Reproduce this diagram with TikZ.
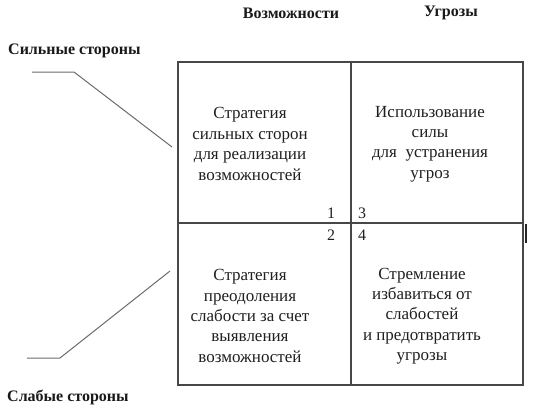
\documentclass[tikz,border=0pt]{standalone}
\usepackage{fontspec}
\setmainfont{Liberation Serif}
\begin{document}
\begin{tikzpicture}[x=1pt,y=-1pt,
  boxline/.style={draw=black!72,line width=1.2pt},
  leader/.style={draw=black!58,line width=1pt},
  head/.style={font=\fontsize{16}{19}\selectfont\bfseries,inner sep=0pt,text=black!90},
  body/.style={font=\fontsize{17}{20.4}\selectfont,align=center,inner sep=0pt,text=black!88},
  num/.style={font=\fontsize{16}{19}\selectfont,inner sep=0pt,text=black!88}]
\useasboundingbox (0,0) rectangle (533,416);
% grid
\coordinate (tl) at (178,62);
\coordinate (br) at (523,385);
\coordinate (mt) at (351,62);
\coordinate (mb) at (351,385);
\coordinate (ml) at (178,223);
\coordinate (mr) at (523,223);
\draw[boxline] (tl) rectangle (br);
\draw[boxline] (mt) -- (mb);
\draw[boxline] (ml) -- (mr);
% mark at right
\coordinate (m1) at (525.5,224);
\coordinate (m2) at (525.5,243);
\draw[draw=black!85,line width=2pt] (m1) -- (m2);
% headings
\node[head] (opp) at (291,13) {Возможности};
\node[head] (thr) at (451,13) {Угрозы};
\node[head,anchor=west] (str) at (8,51) {Сильные стороны};
\node[head,anchor=west] (weak) at (7,397) {Слабые стороны};
% leaders
\coordinate (s1) at (32,72);
\coordinate (s2) at (74,72);
\coordinate (s3) at (172,147);
\draw[leader] (s1) -- (s2) -- (s3);
\coordinate (w1) at (27,358);
\coordinate (w2) at (60,358);
\coordinate (w3) at (170,271);
\draw[leader] (w1) -- (w2) -- (w3);
% quadrant texts
\node[body] (q1) at (250,144) {Стратегия\\сильных сторон\\для реализации\\возможностей};
\node[body] (q2) at (430,144) {Использование\\силы\\для\ \ устранения\\угроз};
\node[body] (q3) at (250,316) {Стратегия\\преодоления\\слабости за счет\\выявления\\возможностей};
\node[body] (q4) at (422,316) {Стремление\\избавиться от\\слабостей\\и предотвратить\\угрозы};
% numbers
\node[num] (n1) at (331,213) {1};
\node[num] (n3) at (362,213) {3};
\node[num] (n2) at (331,235) {2};
\node[num] (n4) at (362,235) {4};
\end{tikzpicture}
\end{document}
